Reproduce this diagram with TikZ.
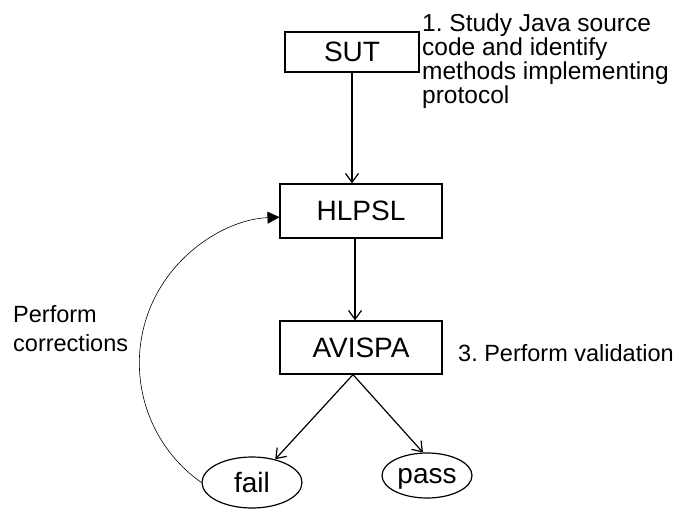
\documentclass[tikz,border=0pt]{standalone}
\usepackage{fontspec}
\setmainfont{Liberation Sans}
\usetikzlibrary{arrows.meta,shapes.geometric}
\frenchspacing
\begin{document}
\begin{tikzpicture}[x=1pt,y=1pt,
  box/.style={draw, line width=1.2pt, inner sep=0pt, font=\fontsize{28}{28}\selectfont},
  oval/.style={draw, ellipse, line width=1.2pt, inner sep=0pt, text depth=0pt,
    font=\fontsize{28}{28}\selectfont},
  note/.style={inner sep=0pt, anchor=base west, align=left},
  flow/.style={line width=1.2pt, -{Straight Barb[length=9pt,width=13pt]}},
  loop/.style={line width=0.6pt, -{Triangle[length=12pt,width=12pt]}}
]
\useasboundingbox (0,0) rectangle (676,-510);

% process boxes
\node[box, minimum width=134pt, minimum height=40pt] (sut) at (352,-52) {SUT};
\node[box, minimum width=162pt, minimum height=54pt] (hlpsl) at (361,-211) {HLPSL};
\node[box, minimum width=162pt, minimum height=53pt] (avispa) at (361,-347.5) {AVISPA};

% outcomes
\node[oval, minimum width=100pt, minimum height=51pt] (fail) at (252,-482.5) {fail};
\node[oval, minimum width=90pt, minimum height=45pt] (pass) at (427,-475.5) {pass};

% annotations (base anchor sits on the last line)
\node[note, font=\fontsize{24.5}{24.3}\selectfont] (study) at (422,-104)
  {1. Study Java source\\code and identify\\methods implementing\\protocol};
\node[note, font=\fontsize{23.5}{29}\selectfont] (fix) at (13,-351)
  {Perform\\corrections};
\node[note, font=\fontsize{23.5}{24}\selectfont] (check) at (458,-361)
  {3. Perform validation};

% flow
\draw[flow] (sut.south) -- (sut.south |- hlpsl.north);
\draw[flow] ([xshift=-6pt]hlpsl.south) -- ([xshift=-6pt]hlpsl.south |- avispa.north);
\coordinate (fork) at ([xshift=-8pt]avispa.south);
\draw[flow] (fork) -- (fail.45);
\draw[flow] (fork) -- (pass.100);

% correction loop back to HLPSL
\draw[loop] (fail.west) arc[start angle=234.9, end angle=92.3, radius=146pt];
\end{tikzpicture}
\end{document}
